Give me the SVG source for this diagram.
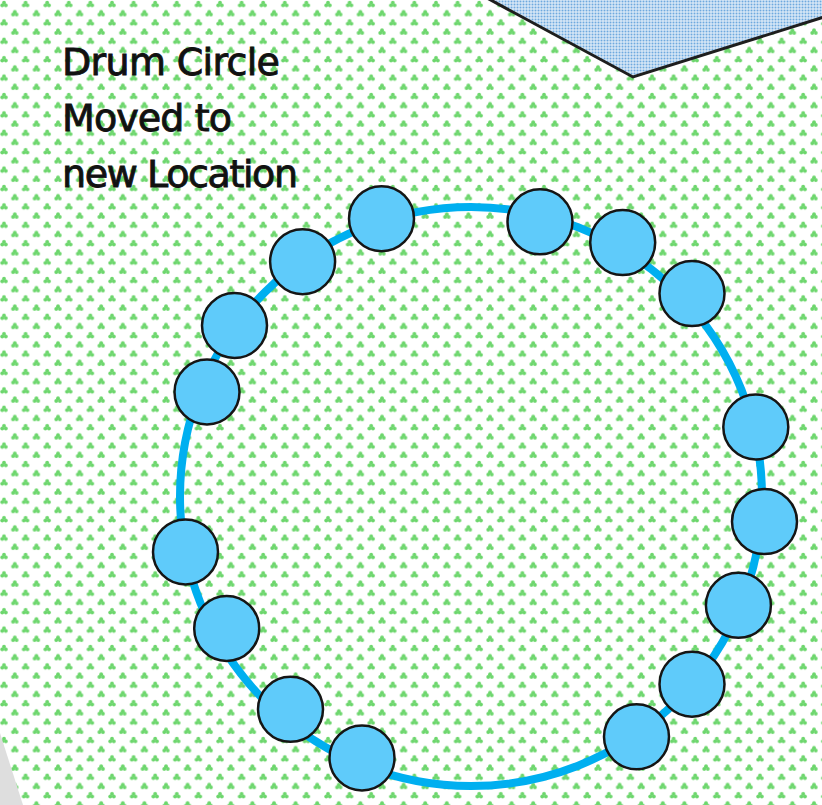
<svg xmlns="http://www.w3.org/2000/svg" width="822" height="805" viewBox="0 0 822 805">
  <defs>
    <pattern id="grass" patternUnits="userSpaceOnUse" width="21.6" height="18.4">
      <g fill="#6cd66c">
        <g id="tre">
          <circle cx="4" cy="2.6" r="1.9"/>
          <circle cx="2.2" cy="5.4" r="1.9"/>
          <circle cx="5.8" cy="5.4" r="1.9"/>
        </g>
        <use href="#tre" x="10.8" y="9.2"/>
        <use href="#tre" x="-10.8" y="9.2"/>
      </g>
    </pattern>
    <pattern id="dots" patternUnits="userSpaceOnUse" width="3" height="3">
      <rect width="3" height="3" fill="#eef5fc"/>
      <rect x="0.5" y="0.5" width="2" height="2" fill="#6ea9de"/>
    </pattern>
    <style>
      .drum { fill: #5fcbfa; stroke: #151515; stroke-width: 2.5; }
      .label { font-family: "DejaVu Sans", "Liberation Sans", sans-serif; font-size: 38px; fill: #111; stroke: #111; stroke-width: 0.9; }
    </style>
  </defs>

  <rect width="822" height="805" fill="#ffffff"/>
  <rect width="822" height="805" fill="url(#grass)"/>

  <polygon points="487,-2 633,77 824,17 824,-2" fill="url(#dots)" stroke="#1e1e1e" stroke-width="3"/>
  <polygon points="0,733 23,805 0,805" fill="#dedede"/>

  <g id="text">
    <text class="label" x="62" y="75" textLength="218">Drum Circle</text>
    <text class="label" x="62" y="131" textLength="170">Moved to</text>
    <text class="label" x="62" y="187" textLength="236">new Location</text>
  </g>

  <g id="connectors">
    <ellipse cx="471" cy="496.5" rx="291" ry="289.5" fill="none" stroke="#00aff0" stroke-width="8"/>
  </g>

  <g id="drum1"><circle class="drum" cx="381.5" cy="218.7" r="32.5"/></g>
  <g id="drum2"><circle class="drum" cx="540" cy="221.8" r="32.5"/></g>
  <g id="drum3"><circle class="drum" cx="622.7" cy="242.6" r="32.5"/></g>
  <g id="drum4"><circle class="drum" cx="692" cy="293.6" r="32.5"/></g>
  <g id="drum5"><circle class="drum" cx="302.6" cy="261.7" r="32.5"/></g>
  <g id="drum6"><circle class="drum" cx="234.5" cy="325.5" r="32.5"/></g>
  <g id="drum7"><circle class="drum" cx="207" cy="392" r="32.5"/></g>
  <g id="drum8"><circle class="drum" cx="755.8" cy="427" r="32.5"/></g>
  <g id="drum9"><circle class="drum" cx="764.5" cy="521.6" r="32.5"/></g>
  <g id="drum10"><circle class="drum" cx="738.4" cy="605.3" r="32.5"/></g>
  <g id="drum11"><circle class="drum" cx="185.5" cy="551.9" r="32.5"/></g>
  <g id="drum12"><circle class="drum" cx="226.7" cy="628.4" r="32.5"/></g>
  <g id="drum13"><circle class="drum" cx="290.5" cy="709.3" r="32.5"/></g>
  <g id="drum14"><circle class="drum" cx="362" cy="757.9" r="32.5"/></g>
  <g id="drum15"><circle class="drum" cx="692" cy="684.2" r="32.5"/></g>
  <g id="drum16"><circle class="drum" cx="636.5" cy="736.8" r="32.5"/></g>
</svg>
